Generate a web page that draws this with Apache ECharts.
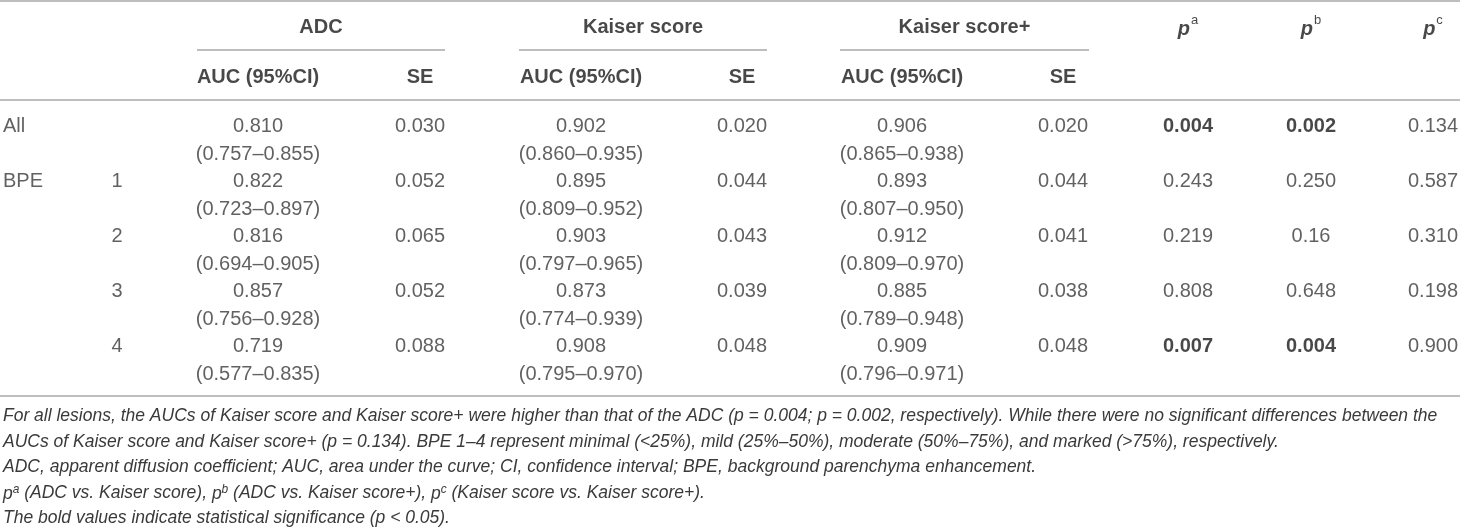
<!DOCTYPE html>
<html>
<head>
<meta charset="utf-8">
<script src="https://cdn.jsdelivr.net/npm/echarts@6/dist/echarts.min.js"></script>
<style>
html,body{margin:0;padding:0;background:#fff;}
#chart{width:1460px;height:531px;}
</style>
</head>
<body>
<div id="chart"></div>
<script>
// ---------------- DATA ----------------
const rowLabels   = ['All', 'BPE', '', '', ''];
const subgroups   = ['', '1', '2', '3', '4'];
const groupNames  = ['ADC', 'Kaiser score', 'Kaiser score+'];
const subHeaders  = ['AUC (95%CI)', 'SE'];
const pHeaders    = ['a', 'b', 'c'];

const adcAUC      = ['0.810', '0.822', '0.816', '0.857', '0.719'];
const adcCI       = ['(0.757–0.855)', '(0.723–0.897)', '(0.694–0.905)', '(0.756–0.928)', '(0.577–0.835)'];
const adcSE       = ['0.030', '0.052', '0.065', '0.052', '0.088'];

const ksAUC       = ['0.902', '0.895', '0.903', '0.873', '0.908'];
const ksCI        = ['(0.860–0.935)', '(0.809–0.952)', '(0.797–0.965)', '(0.774–0.939)', '(0.795–0.970)'];
const ksSE        = ['0.020', '0.044', '0.043', '0.039', '0.048'];

const kspAUC      = ['0.906', '0.893', '0.912', '0.885', '0.909'];
const kspCI       = ['(0.865–0.938)', '(0.807–0.950)', '(0.809–0.970)', '(0.789–0.948)', '(0.796–0.971)'];
const kspSE       = ['0.020', '0.044', '0.041', '0.038', '0.048'];

const pA          = ['0.004', '0.243', '0.219', '0.808', '0.007'];
const pB          = ['0.002', '0.250', '0.16',  '0.648', '0.004'];
const pC          = ['0.134', '0.587', '0.310', '0.198', '0.900'];

const footnotes = [
  'For all lesions, the AUCs of Kaiser score and Kaiser score+ were higher than that of the ADC (p = 0.004; p = 0.002, respectively). While there were no significant differences between the',
  'AUCs of Kaiser score and Kaiser score+ (p = 0.134). BPE 1–4 represent minimal (<25%), mild (25%–50%), moderate (50%–75%), and marked (>75%), respectively.',
  'ADC, apparent diffusion coefficient; AUC, area under the curve; CI, confidence interval; BPE, background parenchyma enhancement.',
  '{i|p}{s|a} (ADC vs. Kaiser score), {i|p}{s|b} (ADC vs. Kaiser score+), {i|p}{s|c} (Kaiser score vs. Kaiser score+).',
  'The bold values indicate statistical significance (p < 0.05).'
];
const SIG = 0.05;

// ---------------- LAYOUT ----------------
const W = 1460, H = 531;
const FONT = '"Liberation Sans", Arial, Helvetica, sans-serif';
const COL = {label: 3, sub: 117, adcAUC: 258, adcSE: 420, ksAUC: 581, ksSE: 742,
             kspAUC: 902, kspSE: 1063, pA: 1188, pB: 1311, pC: 1433};
const GROUP_SPAN = [[197, 445], [519, 767], [840, 1089]];
const ROW_Y = [126, 181, 236, 291, 346];
const CI_DY = 28;
const HEAD1_Y = 27, HEAD2_Y = 77, SUBLINE_Y = 50;
const RULES_Y = [1, 100, 396];
const FOOT_Y0 = 418, FOOT_DY = 25.3;
const FOOT_SIZE = 17.5;

const BODY_COLOR = '#3a3a3a', HEAD_COLOR = '#1a1a1a', RULE_COLOR = '#a8a8a8';

// ---------------- BUILD CELLS ----------------
const leftCells = [], centerCells = [], boldCells = [], richCells = [];
function cell(arr, x, y, text) { arr.push({ value: [x, y], name: text }); }

ROW_Y.forEach((y, i) => {
  if (rowLabels[i]) cell(leftCells, COL.label, y, rowLabels[i]);
  if (subgroups[i]) cell(centerCells, COL.sub, y, subgroups[i]);
  cell(centerCells, COL.adcAUC, y, adcAUC[i]);
  cell(centerCells, COL.adcAUC, y + CI_DY, adcCI[i]);
  cell(centerCells, COL.adcSE, y, adcSE[i]);
  cell(centerCells, COL.ksAUC, y, ksAUC[i]);
  cell(centerCells, COL.ksAUC, y + CI_DY, ksCI[i]);
  cell(centerCells, COL.ksSE, y, ksSE[i]);
  cell(centerCells, COL.kspAUC, y, kspAUC[i]);
  cell(centerCells, COL.kspAUC, y + CI_DY, kspCI[i]);
  cell(centerCells, COL.kspSE, y, kspSE[i]);
  [[pA, COL.pA], [pB, COL.pB], [pC, COL.pC]].forEach(([arr, x]) => {
    cell(parseFloat(arr[i]) < SIG ? boldCells : centerCells, x, y, arr[i]);
  });
});

// headers
groupNames.forEach((g, k) => {
  const [a, b] = GROUP_SPAN[k];
  cell(boldCells, (a + b) / 2, HEAD1_Y, g);
});
[[COL.adcAUC, COL.adcSE], [COL.ksAUC, COL.ksSE], [COL.kspAUC, COL.kspSE]].forEach(([c1, c2]) => {
  cell(boldCells, c1, HEAD2_Y, subHeaders[0]);
  cell(boldCells, c2, HEAD2_Y, subHeaders[1]);
});
[COL.pA, COL.pB, COL.pC].forEach((x, k) => {
  cell(richCells, x, HEAD1_Y, '{p|p}{s|' + pHeaders[k] + '}');
});

// rules
const rules = [];
RULES_Y.forEach(y => rules.push([{ coord: [0, y] }, { coord: [W, y] }]));
GROUP_SPAN.forEach(([a, b]) => rules.push([{ coord: [a, SUBLINE_Y] }, { coord: [b, SUBLINE_Y] }]));

function textSeries(data, label) {
  return {
    type: 'scatter', data, symbolSize: 1, silent: true, animation: false,
    itemStyle: { color: 'rgba(0,0,0,0)' },
    label: Object.assign({ show: true, formatter: p => p.name, position: 'inside',
      align: 'center', verticalAlign: 'middle', fontFamily: FONT, fontSize: 20,
      color: BODY_COLOR }, label)
  };
}

const option = {
  animation: false,
  grid: { left: 0, right: 0, top: 0, bottom: 0, containLabel: false },
  xAxis: { type: 'value', min: 0, max: W, show: false },
  yAxis: { type: 'value', min: 0, max: H, inverse: true, show: false },
  series: [
    textSeries(leftCells, { align: 'left' }),
    textSeries(centerCells, {}),
    textSeries(boldCells, { fontWeight: 'bold', color: HEAD_COLOR }),
    textSeries(richCells, {
      rich: {
        p: { fontFamily: FONT, fontSize: 20, fontWeight: 'bold', fontStyle: 'italic', color: HEAD_COLOR, lineHeight: 24, verticalAlign: 'bottom' },
        s: { fontFamily: FONT, fontSize: 13, color: HEAD_COLOR, lineHeight: 24, padding: [0, 0, 12, 1], verticalAlign: 'bottom' }
      }
    }),
    {
      type: 'scatter', data: [], silent: true,
      markLine: { silent: true, symbol: 'none', animation: false, label: { show: false },
        lineStyle: { color: RULE_COLOR, width: 1.5, type: 'solid' }, data: rules }
    }
  ],
  graphic: footnotes.map((t, i) => ({
    type: 'text', left: 3, top: FOOT_Y0 + i * FOOT_DY - FOOT_SIZE * 0.6, silent: true,
    style: {
      text: t, fill: BODY_COLOR, font: 'italic ' + FOOT_SIZE + 'px ' + FONT,
      rich: {
        i: { fontFamily: FONT, fontStyle: 'italic', fontSize: FOOT_SIZE, color: BODY_COLOR, verticalAlign: 'bottom', lineHeight: 21 },
        s: { fontFamily: FONT, fontStyle: 'italic', fontSize: FOOT_SIZE * 0.68, color: BODY_COLOR, verticalAlign: 'bottom', lineHeight: 21, padding: [0, 0, 8, 0] }
      }
    }
  }))
};

const chart = echarts.init(document.getElementById('chart'), null, { renderer: 'canvas' });
chart.setOption(option);
</script>
</body>
</html>
